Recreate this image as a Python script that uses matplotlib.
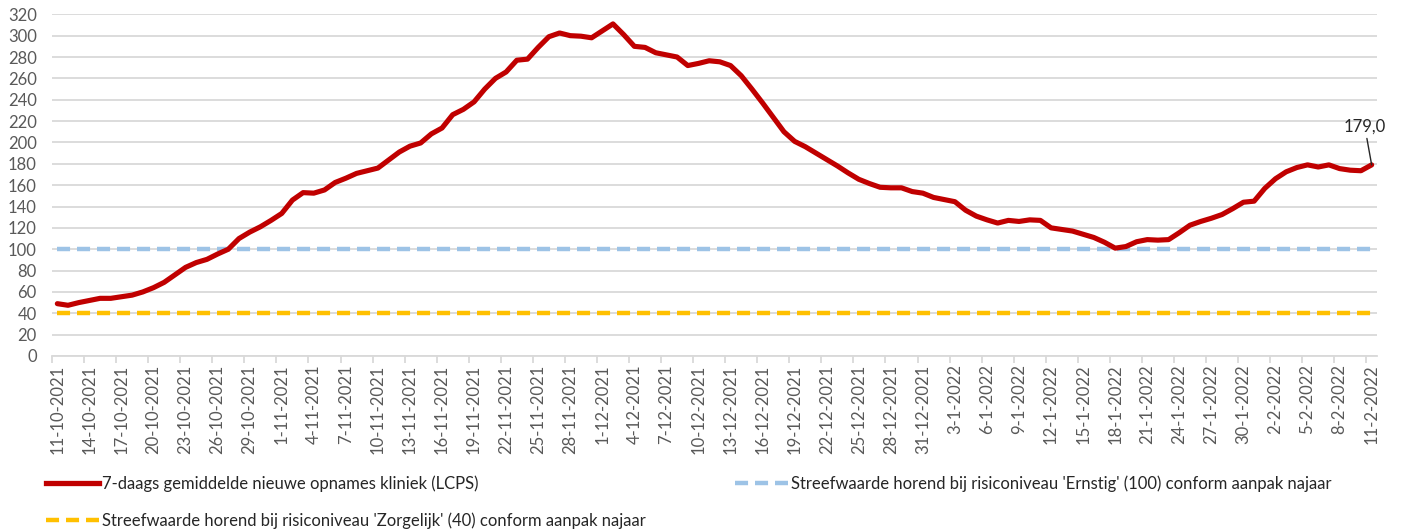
import matplotlib
matplotlib.use("Agg")
import matplotlib.pyplot as plt
from matplotlib.lines import Line2D
import pandas as pd
import numpy as np

plt.rcParams['font.family'] = ['Lato', 'DejaVu Sans']

start_date = "2021-10-11"
opnames = [
    49, 47.5, 50, 52, 54, 54, 55.5, 57, 60, 64,
    69, 76, 83, 87.5, 90.5, 95.5, 100, 110, 116, 121,
    127, 133.5, 146, 153, 152.5, 155.5, 162.5, 166.5, 171, 173.5,
    176, 183.5, 191, 196.5, 199.5, 208, 213.5, 226, 231, 238,
    250, 260, 266, 277, 278, 289, 299, 302.5, 300, 299.5,
    298, 304.5, 311, 301, 290, 289, 284, 282, 280, 272,
    274, 276.5, 275.5, 272, 262.5, 250, 237, 223.5, 210, 201,
    196, 190, 184, 178, 171.5, 165.5, 161.5, 158, 157.5, 157.5,
    154, 152.5, 148.5, 146.5, 144.5, 136.5, 131, 127.5, 124.5, 127,
    126, 127.5, 127, 120, 118.5, 117, 114, 111, 106.5, 101,
    102.5, 107, 109, 108.5, 109, 115.5, 122.5, 126, 129, 132.5,
    138, 144, 145, 157, 166, 172.5, 176.5, 179, 177, 179,
    175.5, 174, 173.5, 179,
]
ernstig_value = 100
zorgelijk_value = 40
last_label = "179,0"
label_red = "7-daags gemiddelde nieuwe opnames kliniek (LCPS)"
label_blue = "Streefwaarde horend bij risiconiveau 'Ernstig' (100) conform aanpak najaar"
label_yellow = "Streefwaarde horend bij risiconiveau 'Zorgelijk' (40) conform aanpak najaar"

dates = pd.date_range(start_date, periods=len(opnames), freq="D")
date_labels = [f"{d.day}-{d.month}-{d.year}" for d in dates]
x = np.arange(len(opnames))

RED = "#C00000"
BLUE = "#9DC3E6"
YELLOW = "#FFC000"
GRID = "#D9D9D9"
TXT = "#595959"
FS = 12

fig = plt.figure(figsize=(14.05, 5.3), dpi=100)
ax = fig.add_axes([52 / 1405, 1 - 356 / 530, (1377 - 52) / 1405, (356 - 14.3) / 530])

ax.set_xlim(-0.5, len(opnames) - 0.5)
ax.set_ylim(0, 320)
ax.set_yticks(np.arange(0, 321, 20))
ax.yaxis.grid(True, color=GRID, lw=1.3)
ax.set_axisbelow(True)
for s in ["top", "right", "left"]:
    ax.spines[s].set_visible(False)
ax.spines["bottom"].set_color(GRID)
ax.spines["bottom"].set_linewidth(1.3)
ax.tick_params(axis="y", length=0, pad=11, labelsize=FS, labelcolor=TXT)

ax.set_xticks(x[::3])
ax.set_xticklabels([date_labels[i] for i in x[::3]], rotation=90)
ax.set_xticks(x[::3] - 0.5, minor=True)
ax.tick_params(axis="x", which="major", length=0, pad=6, labelsize=FS, labelcolor=TXT)
ax.tick_params(axis="x", which="minor", length=5, color=GRID, width=1.3)

dash_lw = 3.2
dash_pat = (9.4 / dash_lw, 5.0 / dash_lw)
ln_blue, = ax.plot(x, [ernstig_value] * len(x), color=BLUE, lw=dash_lw,
                   dashes=dash_pat, label=label_blue)
ln_yel, = ax.plot(x, [zorgelijk_value] * len(x), color=YELLOW, lw=dash_lw,
                  dashes=dash_pat, label=label_yellow)
ln_red, = ax.plot(x, opnames, color=RED, lw=3.7, solid_joinstyle="round",
                  solid_capstyle="round", label=label_red)

ax.annotate(last_label, xy=(x[-1], opnames[-1]), xytext=(-5, 22),
            textcoords="offset points", ha="center", va="bottom",
            fontsize=FS, color="#262626",
            arrowprops=dict(arrowstyle="-", color="#262626", lw=1.0,
                            shrinkA=1, shrinkB=0))

leg_kw = dict(frameon=False, fontsize=FS, handlelength=3.2, handletextpad=0.15,
              borderpad=0, borderaxespad=0, labelspacing=1.25, labelcolor="#262626")
h_red = Line2D([], [], color=RED, lw=3.8)
h_yel = Line2D([], [], color=YELLOW, lw=dash_lw, dashes=dash_pat)
h_blue = Line2D([], [], color=BLUE, lw=dash_lw, dashes=dash_pat)
fig.legend([h_red, h_yel], [label_red, label_yellow], loc="upper left",
           bbox_to_anchor=(46 / 1405, 1 - 475 / 530), **leg_kw)
fig.legend([h_blue], [label_blue], loc="upper left",
           bbox_to_anchor=(735 / 1405, 1 - 475 / 530), **leg_kw)

fig.savefig("out.png", dpi=100, facecolor="white")
